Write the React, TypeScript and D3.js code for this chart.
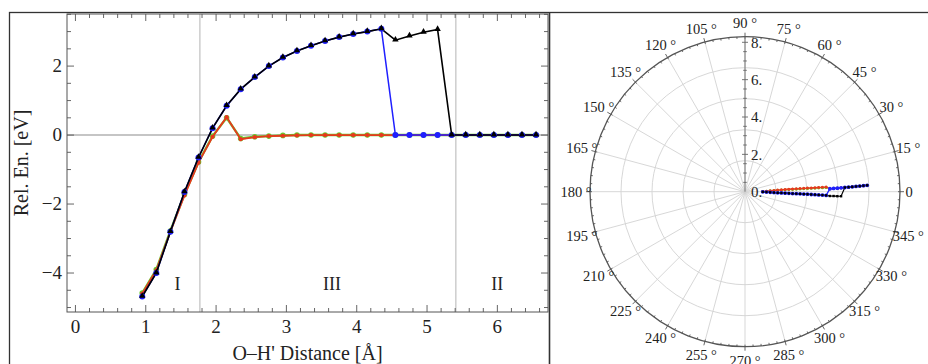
import * as d3 from "d3";

// O–H' distance [Å] for every computed point
const distances = [
  0.95, 1.15, 1.35, 1.55, 1.75, 1.95, 2.15, 2.35, 2.55, 2.75, 2.95, 3.15, 3.35, 3.55, 3.75,
  3.95, 4.15, 4.35, 4.55, 4.75, 4.95, 5.15, 5.35, 5.55, 5.75, 5.95, 6.15, 6.35, 6.55,
];

// relative energies [eV]
const blackEn = [
  -4.68, -4.0, -2.8, -1.65, -0.65, 0.2, 0.85, 1.33, 1.68, 2.0, 2.25, 2.44, 2.59, 2.73, 2.84,
  2.93, 3.0, 3.08, 2.75, 2.87, 2.98, 3.06, 0, 0, 0, 0, 0, 0, 0,
];
const blueEn = [
  -4.68, -4.0, -2.8, -1.65, -0.65, 0.2, 0.85, 1.33, 1.68, 2.0, 2.25, 2.44, 2.59, 2.73, 2.84,
  2.93, 3.0, 3.08, 0, 0, 0, 0, 0, 0, 0, 0, 0, 0, 0,
];
const redEn = [
  -4.6, -3.92, -2.8, -1.75, -0.8, -0.05, 0.52, -0.12, -0.06, -0.03, -0.02, -0.01, 0, 0, 0,
  0, 0, 0, 0, 0, 0, 0, 0, 0, 0, 0, 0, 0, 0,
];
const greenEn = [
  -4.58, -3.9, -2.78, -1.72, -0.78, -0.03, 0.5, -0.1, -0.05, -0.03, -0.01, 0, 0, 0, 0,
  0, 0, 0, 0, 0, 0, 0, 0, 0, 0, 0, 0, 0, 0,
];

// polar angles [deg] of the same points
const blackAng = [
  -0.5, -1.0, -1.4, -1.7, -1.9, -2.0, -2.1, -2.1, -2.2, -2.2, -2.2, -2.3, -2.3, -2.4, -2.4,
  -2.5, -2.5, -2.6, -2.9, -2.8, -2.8, -2.7, 2.4, 2.5, 2.6, 2.7, 2.8, 2.9, 3.0,
];
const blueAng = [
  -0.5, -1.0, -1.4, -1.7, -1.9, -2.0, -2.1, -2.1, -2.2, -2.2, -2.2, -2.3, -2.3, -2.4, -2.4,
  -2.5, -2.5, -2.6, 2.0, 2.1, 2.2, 2.3, 2.4, 2.5, 2.6, 2.7, 2.8, 2.9, 3.0,
];
const redAng = [
  0.5, 1.5, 2.2, 2.6, 2.9, 3.1, 3.2, 3.3, 3.3, 3.3, 3.3, 3.3, 3.3, 3.3, 3.3,
  3.3, 3.3, 3.3, 2.0, 2.1, 2.2, 2.3, 2.4, 2.5, 2.6, 2.7, 2.8, 2.9, 3.0,
];
const greenAng = [
  0.3, 1.2, 1.9, 2.3, 2.5, 2.7, 2.8, 2.9, 2.9, 2.9, 3.0, 3.0, 3.0, 3.0, 3.0,
  3.0, 3.0, 3.0, 2.0, 2.1, 2.2, 2.3, 2.4, 2.5, 2.6, 2.7, 2.8, 2.9, 3.0,
];

const xTicks = [0, 1, 2, 3, 4, 5, 6];
const yTicks = [-4, -2, 0, 2];
const regionLines = [1.77, 5.41];
const regions = [
  { label: "I", x: 1.45 },
  { label: "III", x: 3.65 },
  { label: "II", x: 6.0 },
];
const radialLabels = [0, 2, 4, 6, 8];
const angleLabels = d3.range(0, 360, 15);

const FONT = "'Liberation Serif', 'Times New Roman', serif";
const BLUE = "#1f1fff";
const RED = "#e8381e";
const GREEN = "#66cc2e";

type Pt = [number, number];
const zip = (a: number[], b: number[]): Pt[] => a.map((v, i) => [v, b[i]]);

export default function App() {
  // ---- left: energy profile ----
  const x = d3.scaleLinear().domain([-0.12, 6.72]).range([67, 548]);
  const y = d3.scaleLinear().domain([-5.13, 3.51]).range([312, 14]);
  const line = d3.line<Pt>().x((d) => x(d[0])).y((d) => y(d[1]));
  const [x0, x1] = x.range();
  const [y0, y1] = y.range();

  const xMinor = d3.range(0, 6.7, 0.2);
  const yMinor = d3.range(-5, 3.6, 0.5);
  const tri = d3.symbol().type(d3.symbolTriangle).size(18)();

  const green = zip(distances, greenEn);
  const red = zip(distances, redEn);
  const blue = zip(distances, blueEn);
  const black = zip(distances, blackEn);

  // ---- right: polar view ----
  const cx = 745;
  const cy = 191.7;
  const R_MAX = 8.3;
  const r = d3.scaleLinear().domain([0, R_MAX]).range([0, 155]);
  const toA = (deg: number) => ((90 - deg) * Math.PI) / 180;
  const radial = d3
    .lineRadial<Pt>()
    .angle((d) => toA(d[1]))
    .radius((d) => r(d[0]));
  const pGreen = zip(distances, greenAng);
  const pRed = zip(distances, redAng);
  const pBlue = zip(distances, blueAng);
  const pBlack = zip(distances, blackAng);
  const rings = d3.range(1, 5).map((k) => (R_MAX * k) / 5);
  const minorAng = d3.range(0, 360, 3);
  const rMinor = d3.range(0.5, R_MAX, 0.5);

  const dot = (pts: Pt[], color: string, rad: number) =>
    pts.map((p, i) => {
      const [px, py] = d3.pointRadial(toA(p[1]), r(p[0]));
      return <circle key={i} cx={px} cy={py} r={rad} fill={color} />;
    });

  return (
    <svg
      width={928}
      height={364}
      style={{ position: "absolute", left: 0, top: 0, background: "#fff" }}
      fontFamily={FONT}
    >
      <rect x={0} y={0} width={928} height={364} fill="#fff" />
      {/* outer frames */}
      <rect x={9.5} y={12.5} width={1000} height={400} fill="none" stroke="#333" strokeWidth={1.3} />
      <line x1={549.5} x2={549.5} y1={12} y2={364} stroke="#333" strokeWidth={1.6} />

      {/* ===== left panel ===== */}
      <g>
        {regionLines.map((v) => (
          <line key={v} x1={x(v)} x2={x(v)} y1={y1} y2={y0} stroke="#b4b4b4" strokeWidth={1} />
        ))}
        <line x1={x0} x2={x1} y1={y(0)} y2={y(0)} stroke="#8c8c8c" strokeWidth={1.1} />

        <path d={line(green) ?? ""} fill="none" stroke={GREEN} strokeWidth={2.4} />
        {green.map((d, i) => (
          <circle key={i} cx={x(d[0])} cy={y(d[1])} r={2.8} fill={GREEN} />
        ))}
        <path d={line(red) ?? ""} fill="none" stroke={RED} strokeWidth={1.8} />
        {red.map((d, i) => (
          <circle key={i} cx={x(d[0])} cy={y(d[1])} r={2.1} fill={RED} />
        ))}
        <path d={line(blue) ?? ""} fill="none" stroke={BLUE} strokeWidth={1.5} />
        <path d={line(black) ?? ""} fill="none" stroke="#000" strokeWidth={1.6} />
        {blue.map((d, i) => (
          <circle key={i} cx={x(d[0])} cy={y(d[1])} r={3} fill={BLUE} />
        ))}
        {black.map((d, i) => (
          <path key={i} d={tri ?? ""} transform={`translate(${x(d[0])},${y(d[1]) - 0.5})`} fill="#000" />
        ))}

        {/* frame and ticks */}
        <rect x={x0} y={y1} width={x1 - x0} height={y0 - y1} fill="none" stroke="#555" strokeWidth={1} />
        {xMinor.map((v) => {
          const major = xTicks.some((t) => Math.abs(t - v) < 1e-6);
          const len = major ? 7 : 4;
          return (
            <g key={v} stroke="#555" strokeWidth={0.9}>
              <line x1={x(v)} x2={x(v)} y1={y0} y2={y0 - len} />
              <line x1={x(v)} x2={x(v)} y1={y1} y2={y1 + len} />
            </g>
          );
        })}
        {yMinor.map((v) => {
          const major = yTicks.some((t) => Math.abs(t - v) < 1e-6);
          const len = major ? 7 : 4;
          return (
            <g key={v} stroke="#555" strokeWidth={0.9}>
              <line x1={x0} x2={x0 + len} y1={y(v)} y2={y(v)} />
              <line x1={x1} x2={x1 - len} y1={y(v)} y2={y(v)} />
            </g>
          );
        })}
        {xTicks.map((t) => (
          <text key={t} x={x(t)} y={333} fontSize={19} textAnchor="middle" fill="#222">
            {t}
          </text>
        ))}
        {yTicks.map((t) => (
          <text key={t} x={62} y={y(t)} dy="0.33em" fontSize={19} textAnchor="end" fill="#222">
            {t < 0 ? `−${-t}` : t}
          </text>
        ))}
        {regions.map((g) => (
          <text key={g.label} x={x(g.x)} y={y(-4.3)} dy="0.35em" fontSize={18} textAnchor="middle" fill="#222">
            {g.label}
          </text>
        ))}
        <text
          transform={`translate(28,${(y0 + y1) / 2}) rotate(-90)`}
          fontSize={20}
          textAnchor="middle"
          fill="#222"
        >
          Rel. En. [eV]
        </text>
        <text x={(x0 + x1) / 2} y={360} fontSize={20} textAnchor="middle" fill="#222">
          O–H' Distance [Å]
        </text>
      </g>

      {/* ===== right panel: polar ===== */}
      <g transform={`translate(${cx},${cy})`}>
        {angleLabels.map((a) => {
          const [px, py] = d3.pointRadial(toA(a), r(R_MAX));
          return <line key={a} x1={0} y1={0} x2={px} y2={py} stroke="#d2d2d2" strokeWidth={0.9} />;
        })}
        {rings.map((v) => (
          <circle key={v} r={r(v)} fill="none" stroke="#d2d2d2" strokeWidth={0.9} />
        ))}
        <circle r={r(R_MAX)} fill="none" stroke="#555" strokeWidth={1.3} />
        {minorAng.map((a) => {
          const major = a % 15 === 0;
          const [ax, ay] = d3.pointRadial(toA(a), r(R_MAX) - 2);
          const [bx, by] = d3.pointRadial(toA(a), r(R_MAX) + (major ? 4 : 0));
          return <line key={a} x1={ax} y1={ay} x2={bx} y2={by} stroke="#555" strokeWidth={0.9} />;
        })}
        <line x1={0} x2={0} y1={0} y2={-r(R_MAX)} stroke="#777" strokeWidth={1} />
        {rMinor.map((v) => {
          const major = v % 2 === 0;
          const len = major ? 3 : 1.8;
          return <line key={v} x1={-len} x2={len} y1={-r(v)} y2={-r(v)} stroke="#666" strokeWidth={0.9} />;
        })}
        {radialLabels.map((v) => (
          <text key={v} x={6} y={-r(v)} dy="0.35em" fontSize={15} fill="#222">
            {`${v}.`}
          </text>
        ))}
        {angleLabels.map((a) => {
          const [px, py] = d3.pointRadial(toA(a), a === 0 ? 164 : 169);
          return (
            <text key={a} x={px} y={py} dy="0.35em" fontSize={14.5} textAnchor="middle" fill="#222">
              {a === 0 ? "0" : `${a} °`}
            </text>
          );
        })}

        <path d={radial(pGreen) ?? ""} fill="none" stroke={GREEN} strokeWidth={1.2} />
        {dot(pGreen, GREEN, 1.6)}
        <path d={radial(pRed) ?? ""} fill="none" stroke={RED} strokeWidth={1.2} />
        {dot(pRed, RED, 1.5)}
        <path d={radial(pBlue) ?? ""} fill="none" stroke={BLUE} strokeWidth={1.3} />
        <path d={radial(pBlack) ?? ""} fill="none" stroke="#000" strokeWidth={1.2} />
        {dot(pBlue, BLUE, 1.9)}
        {pBlack.map((p, i) => {
          const [px, py] = d3.pointRadial(toA(p[1]), r(p[0]));
          return <rect key={i} x={px - 1.2} y={py - 1.2} width={2.4} height={2.4} fill="#000" />;
        })}
      </g>
    </svg>
  );
}
